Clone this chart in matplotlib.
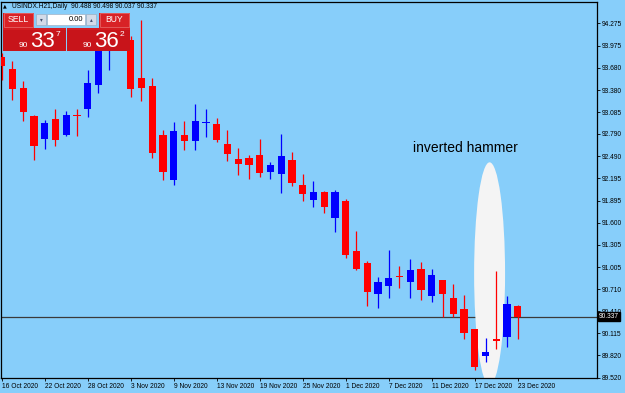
import matplotlib.pyplot as plt
from matplotlib.patches import Rectangle, Ellipse

# USINDX.H21 daily candles, 16 Oct 2020 .. 23 Dec 2020
opens = [93.827, 93.662, 93.411, 93.031, 92.719, 92.995, 92.776, 93.038, 93.125, 93.447,
         93.943, 94.185, 94.051, 93.537, 93.434, 92.780, 92.173, 92.776, 92.700, 92.941,
         92.924, 92.655, 92.454, 92.472, 92.508, 92.284, 92.253, 92.441, 92.105, 91.900,
         92.007, 91.659, 91.891, 91.220, 91.059, 90.639, 90.746, 90.887, 90.800, 90.979,
         90.612, 90.831, 90.589, 90.442, 90.173, 89.811, 90.039, 90.066, 90.488]
highs = [93.872, 93.773, 93.501, 93.045, 92.978, 93.125, 93.102, 93.125, 93.648, 94.051,
         94.292, 94.346, 94.104, 94.319, 93.537, 92.843, 92.955, 92.964, 93.188, 93.125,
         93.000, 92.843, 92.602, 92.504, 92.719, 92.418, 92.790, 92.548, 92.253, 92.159,
         92.025, 92.038, 91.914, 91.492, 91.086, 90.867, 91.233, 91.019, 91.117, 91.072,
         90.974, 90.831, 90.777, 90.629, 90.173, 90.053, 90.956, 90.620, 90.498]
lows = [93.514, 93.246, 92.968, 92.441, 92.592, 92.629, 92.763, 92.763, 93.022, 93.344,
        93.648, 93.943, 93.290, 93.236, 92.464, 92.173, 92.105, 92.575, 92.575, 92.743,
        92.682, 92.431, 92.240, 92.182, 92.217, 92.182, 91.994, 92.092, 91.895, 91.814,
        91.734, 91.479, 91.130, 90.965, 90.482, 90.451, 90.593, 90.727, 90.593, 90.562,
        90.532, 90.330, 90.338, 90.035, 89.623, 89.735, 89.905, 89.936, 90.037]
closes = [93.706, 93.397, 93.085, 92.629, 92.941, 92.709, 93.049, 93.025, 93.478, 93.984,
          94.185, 94.051, 93.393, 93.411, 92.531, 92.284, 92.834, 92.696, 92.968, 92.957,
          92.709, 92.525, 92.391, 92.370, 92.262, 92.374, 92.499, 92.128, 91.989, 92.007,
          91.810, 92.016, 91.170, 90.979, 90.666, 90.804, 90.862, 90.874, 90.965, 90.697,
          90.898, 90.647, 90.371, 90.120, 89.660, 89.865, 90.016, 90.505, 90.337]

date_ticks = [0, 4, 8, 12, 16, 20, 24, 28, 32, 36, 40, 44, 48]
date_labels = ['16 Oct 2020', '22 Oct 2020', '28 Oct 2020', '3 Nov 2020', '9 Nov 2020',
               '13 Nov 2020', '19 Nov 2020', '25 Nov 2020', '1 Dec 2020', '7 Dec 2020',
               '11 Dec 2020', '17 Dec 2020', '23 Dec 2020']
price_ticks = [94.275, 93.975, 93.680, 93.380, 93.085, 92.790, 92.490, 92.195, 91.895,
               91.600, 91.305, 91.005, 90.710, 90.410, 90.115, 89.820, 89.520]

bg = '#87cefa'
W, H = 625, 393
plt.rcParams['font.family'] = ['Liberation Sans', 'DejaVu Sans']

def fx(x):
    return x / W

def fy(y):
    return 1 - y / H

fig = plt.figure(figsize=(6.25, 3.93), dpi=100, facecolor=bg)
ax = fig.add_axes([fx(1), fy(378), fx(597) - fx(1), fy(2) - fy(378)])
ax.set_facecolor(bg)

# candles
for i in range(len(opens)):
    o, h, l, c = opens[i], highs[i], lows[i], closes[i]
    col = '#0000ff' if c > o else '#ff0000'
    ax.vlines(i, l, h, color=col, lw=0.9, zorder=3)
    body = max(abs(c - o), 0.016)
    ax.bar(i, body, bottom=min(o, c), width=0.66, color=col, linewidth=0, zorder=4)

# current price line + marked pattern
last = closes[-1]
ax.axhline(last, color='#3a3a3a', lw=0.9, zorder=1)
ax.add_patch(Ellipse((45.38, 90.915), 2.88, 2.99, facecolor='#f4f4f4',
                     edgecolor='none', zorder=2))
ax.text(43.1, 92.60, 'inverted hammer', ha='center', va='center', fontsize=10,
        color='black', zorder=5)

ax.set_xlim(-0.065, 55.37)
ax.set_ylim(89.516, 94.561)

ax.yaxis.tick_right()
ax.set_yticks(price_ticks)
ax.set_yticklabels([f'{p:.3f}' for p in price_ticks])
ax.set_xticks(date_ticks)
ax.set_xticklabels(date_labels, ha='left')
ax.tick_params(axis='both', length=2, width=0.6, labelsize=4.8, colors='black', pad=1.5)
for s in ax.spines.values():
    s.set_color('black')
    s.set_linewidth(0.9)

ax.text(1.003, last, f'{last:.3f}', transform=ax.get_yaxis_transform(), ha='left',
        va='center', fontsize=4.8, color='white', zorder=6, clip_on=False,
        bbox=dict(facecolor='black', edgecolor='black', pad=0.8))

# one-click trading panel / header
fig.text(fx(3), fy(6), '\u25b2', fontsize=3.5, va='center', family='DejaVu Sans')
fig.text(fx(12), fy(6), 'USINDX.H21,Daily  90.488 90.498 90.037 90.337', fontsize=4.8,
         va='center', color='black')

def rect(x0, y0, x1, y1, fc, ec='none', lw=0.0):
    fig.add_artist(Rectangle((fx(x0), fy(y1)), fx(x1) - fx(x0), fy(y0) - fy(y1),
                             transform=fig.transFigure, facecolor=fc, edgecolor=ec,
                             lw=lw, zorder=10))

rect(3, 13, 66, 51, '#c8141a')
rect(67, 13, 130, 51, '#c8141a')
rect(3, 13, 66, 30, '#d41c20')
rect(67, 13, 130, 30, '#d41c20')
rect(34, 12, 99, 28, bg)
rect(4, 13, 33, 27, '#d82226', ec='#e87070', lw=0.5)
rect(100, 13, 129, 27, '#d82226', ec='#e87070', lw=0.5)
rect(36, 14, 46, 25, '#d3dbe8', ec='#9aa6b8', lw=0.4)
rect(86, 14, 96, 25, '#d3dbe8', ec='#9aa6b8', lw=0.4)
rect(47, 14, 85, 25, 'white', ec='#9aa6b8', lw=0.4)

fig.text(fx(18.5), fy(19.5), 'SELL', fontsize=6.2, color='white', ha='center', va='center', zorder=11)
fig.text(fx(114.5), fy(19.5), 'BUY', fontsize=6.2, color='white', ha='center', va='center', zorder=11)
fig.text(fx(41), fy(19.5), '\u25be', fontsize=4, color='#405070', ha='center', va='center',
         family='DejaVu Sans', zorder=11)
fig.text(fx(91), fy(19.5), '\u25b4', fontsize=4, color='#405070', ha='center', va='center',
         family='DejaVu Sans', zorder=11)
fig.text(fx(83), fy(19.5), '0.00', fontsize=5.5, color='black', ha='right', va='center', zorder=11)

fig.text(fx(19), fy(47), '90', fontsize=6, color='white', va='baseline', zorder=11)
fig.text(fx(30), fy(47), '33', fontsize=16, color='white', va='baseline', zorder=11)
fig.text(fx(56), fy(31), '7', fontsize=6, color='white', va='top', zorder=11)
fig.text(fx(83), fy(47), '90', fontsize=6, color='white', va='baseline', zorder=11)
fig.text(fx(94), fy(47), '36', fontsize=16, color='white', va='baseline', zorder=11)
fig.text(fx(120), fy(31), '2', fontsize=6, color='white', va='top', zorder=11)

fig.savefig('out.png', dpi=100, facecolor=bg)
